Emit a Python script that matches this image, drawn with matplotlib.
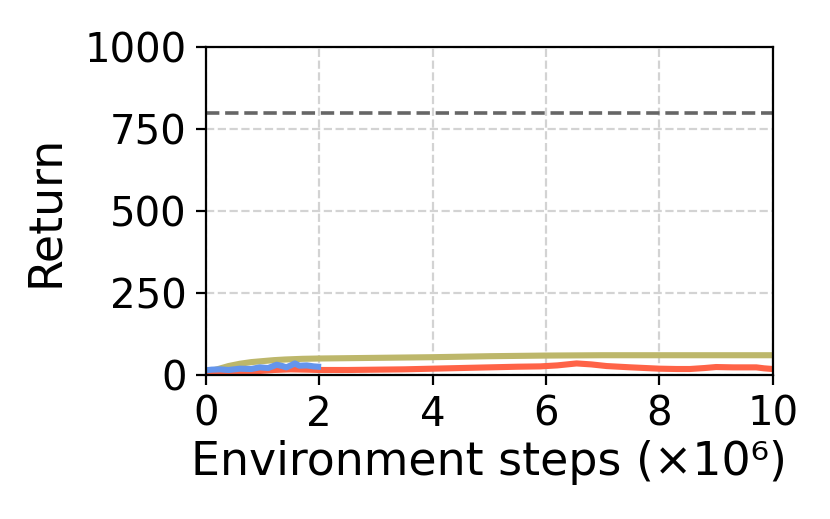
import matplotlib
matplotlib.use('Agg')
import matplotlib.pyplot as plt

# 数据 (x: 百万步, y: 回报)
olive_x = [0, 0.07, 0.2, 0.4, 0.6, 0.8, 1.0, 1.2, 1.4, 1.7, 2.0, 3.0, 4.0, 5.0, 6.0, 7.0, 8.0, 9.0, 10.0]
olive_y = [5, 12, 18, 28, 35, 40, 43, 46, 48, 50, 51, 53, 55, 58, 60, 61, 61, 61, 61]

red_x = [0, 0.3, 0.6, 0.95, 1.2, 1.5, 1.8, 2.0, 2.5, 3.0, 3.5, 4.0, 4.5, 5.0, 5.5, 5.9, 6.2, 6.54, 6.8, 7.07, 7.5, 8.0, 8.3, 8.54, 8.8, 9.0, 9.3, 9.71, 9.85, 10.0]
red_y = [8, 9, 11, 13, 16, 18, 17, 16, 16, 17, 18, 20, 22, 24, 26, 27, 30, 36, 33, 28, 24, 20, 19, 19, 22, 25, 24, 24, 21, 19]

blue_x = [0, 0.1, 0.25, 0.4, 0.6, 0.8, 0.95, 1.1, 1.25, 1.35, 1.42, 1.5, 1.57, 1.65, 1.78, 1.9, 1.98]
blue_y = [15, 17, 18, 16, 20, 19, 24, 22, 32, 28, 24, 30, 36, 29, 30, 27, 26]

target = 800

plt.figure(figsize=(4.15, 2.595), dpi=200)
ax = plt.gca()
plt.subplots_adjust(left=0.248, right=0.931, top=0.909, bottom=0.277)

plt.plot(olive_x, olive_y, color='#BDB76B', linewidth=2.2)
plt.plot(red_x, red_y, color='#FF6347', linewidth=2.2)
plt.plot(blue_x, blue_y, color='#6495ED', linewidth=2.2)
plt.axhline(target, color='#666666', linestyle='--', linewidth=1.3)

plt.xlim(0, 10)
plt.ylim(0, 1000)
plt.xticks([0, 2, 4, 6, 8, 10])
plt.yticks([0, 250, 500, 750, 1000])
plt.tick_params(labelsize=14.5)
plt.grid(True, linestyle='--', color='#d3d3d3', linewidth=0.8)
ax.set_axisbelow(True)

plt.xlabel('Environment steps (×10⁶)', fontsize=16.5, labelpad=2)
plt.ylabel('Return', fontsize=16.5, labelpad=6)

plt.savefig('out.png', dpi=200)
